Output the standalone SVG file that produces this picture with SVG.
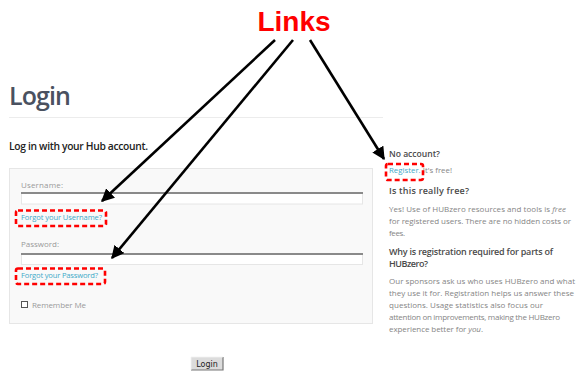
<svg xmlns="http://www.w3.org/2000/svg" width="576" height="371" viewBox="0 0 576 371">
  <defs>
    <marker id="arrow" viewBox="0 0 10 10" refX="9" refY="5" markerWidth="5" markerHeight="5" orient="auto" markerUnits="strokeWidth">
      <path d="M0,0 L10,5 L0,10 Z" fill="#000"/>
    </marker>
    <style>
      .ui { font-family: "Open Sans", "Liberation Sans", sans-serif; }
      .label { font-size: 8px; fill: #999; }
      .link { font-size: 7.6px; fill: #3fa9c8; }
      .head { font-size: 9px; font-weight: 600; fill: #4a4a4a; }
      .para { font-size: 8px; fill: #858585; }
      .hl { fill: none; stroke: #f00; stroke-width: 2.6; stroke-dasharray: 5 3; }
      .conn { stroke: #000; stroke-width: 2.6; fill: none; marker-end: url(#arrow); }
      .input { fill: #fff; stroke: #e6e6e6; stroke-width: 1; }
      .inputtop { stroke: #8a8a8a; stroke-width: 2; }
    </style>
  </defs>
  <rect width="576" height="371" fill="#fff"/>

  <!-- page heading -->
  <g id="heading">
    <text class="ui" x="9" y="105" font-size="25" font-weight="600" fill="#4a5160" textLength="62">Login</text>
    <line x1="9" y1="117.5" x2="383" y2="117.5" stroke="#ececec" stroke-width="1"/>
    <text class="ui" x="9" y="150" font-size="10.3" font-weight="600" fill="#222" textLength="139">Log in with your Hub account.</text>
  </g>

  <!-- login form -->
  <g id="form">
    <rect x="9.5" y="168.5" width="363" height="155" fill="#f9f9f9" stroke="#e6e6e6"/>
    <text class="ui label" x="21" y="188" textLength="42">Username:</text>
    <rect class="input" x="21.5" y="192.5" width="341" height="11.5"/>
    <line class="inputtop" x1="21" y1="193" x2="363" y2="193"/>
    <text class="ui label" x="21" y="247" textLength="38">Password:</text>
    <rect class="input" x="21.5" y="253.5" width="341" height="11"/>
    <line class="inputtop" x1="21" y1="254" x2="363" y2="254" stroke="#6a6a6a"/>
    <rect x="21.5" y="301.5" width="6" height="6" fill="#fff" stroke="#555"/>
    <text class="ui label" x="32" y="308" textLength="54">Remember Me</text>
  </g>

  <g id="forgot-username">
    <text class="ui link" x="21" y="220" textLength="81">Forgot your Username?</text>
    <rect class="hl" x="16" y="210.5" width="90" height="15.5" rx="2"/>
  </g>

  <g id="forgot-password">
    <text class="ui link" x="21" y="278" textLength="77">Forgot your Password?</text>
    <rect class="hl" x="16" y="268.5" width="89" height="15.5" rx="2"/>
  </g>

  <g id="login-button">
    <rect x="191" y="357" width="32" height="13" fill="#dcdcdc"/>
    <path d="M223,357 V370 H191" fill="none" stroke="#777" stroke-width="1.2"/>
    <path d="M191,370 V357 H223" fill="none" stroke="#f2f2f2" stroke-width="0.8"/>
    <text x="207" y="367" font-family="'DejaVu Sans', sans-serif" font-size="8" fill="#222" text-anchor="middle">Login</text>
  </g>

  <!-- sidebar -->
  <g id="register">
    <text class="ui" x="389" y="157" font-size="8.6" font-weight="600" fill="#4a4a4a" textLength="51">No account?</text>
    <text class="ui" x="389" y="173" font-size="7.8" textLength="63"><tspan fill="#3fa9c8">Register.</tspan><tspan fill="#858585"> It's free!</tspan></text>
    <rect class="hl" x="386" y="164" width="37" height="16" rx="2"/>
  </g>

  <g id="faq">
    <text class="ui head" x="389" y="194" textLength="80">Is this really free?</text>
    <text class="ui para" x="389" y="212" textLength="177">Yes! Use of HUBzero resources and tools is <tspan font-style="italic">free</tspan></text>
    <text class="ui para" x="389" y="224" textLength="182">for registered users. There are no hidden costs or</text>
    <text class="ui para" x="389" y="236" textLength="16">fees.</text>
    <text class="ui head" x="389" y="255" textLength="164">Why is registration required for parts of</text>
    <text class="ui head" x="389" y="267" textLength="39">HUBzero?</text>
    <text class="ui para" x="389" y="284" textLength="186">Our sponsors ask us who uses HUBzero and what</text>
    <text class="ui para" x="389" y="296" textLength="185">they use it for. Registration helps us answer these</text>
    <text class="ui para" x="389" y="308" textLength="154">questions. Usage statistics also focus our</text>
    <text class="ui para" x="389" y="320" textLength="171">attention on improvements, making the HUBzero</text>
    <text class="ui para" x="389" y="332" textLength="94">experience better for <tspan font-style="italic">you</tspan>.</text>
  </g>

  <!-- callout -->
  <g id="links-label">
    <text x="294" y="31" font-family="'Liberation Sans', Arial, sans-serif" font-size="28" font-weight="700" fill="#ff0000" text-anchor="middle">Links</text>
  </g>

  <g id="connectors">
    <line class="conn" x1="275" y1="40" x2="102" y2="201"/>
    <line class="conn" x1="293" y1="40" x2="112" y2="258"/>
    <line class="conn" x1="310" y1="40" x2="384" y2="159"/>
  </g>
</svg>
